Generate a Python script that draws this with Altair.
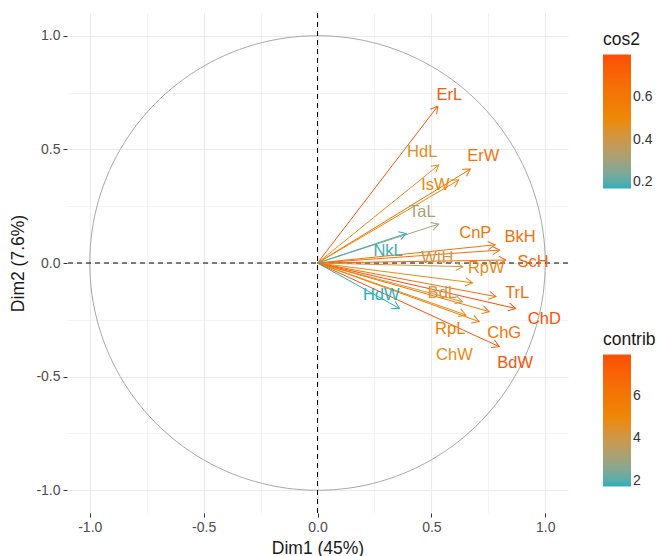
import altair as alt
import pandas as pd

names = ["ErL", "HdL", "ErW", "IsW", "TaL", "NkL", "CnP", "BkH", "ScH", "WtH",
         "RpW", "TrL", "ChD", "BdL", "RpL", "ChG", "ChW", "BdW", "HdW"]
dim1 = [0.528, 0.532, 0.671, 0.620, 0.532, 0.390, 0.780, 0.800, 0.827, 0.638,
        0.681, 0.784, 0.870, 0.636, 0.710, 0.754, 0.652, 0.798, 0.360]
dim2 = [0.690, 0.431, 0.413, 0.365, 0.171, 0.130, 0.080, 0.057, 0.013, -0.016,
        -0.087, -0.148, -0.200, -0.170, -0.258, -0.214, -0.229, -0.368, -0.200]
cos2 = [0.755, 0.469, 0.621, 0.517, 0.312, 0.180, 0.615, 0.643, 0.684, 0.407,
        0.472, 0.637, 0.797, 0.433, 0.571, 0.614, 0.477, 0.772, 0.172]
contrib = [7.55, 4.69, 6.21, 5.17, 3.12, 1.80, 6.15, 6.43, 6.84, 4.07,
           4.72, 6.37, 7.97, 4.33, 5.71, 6.14, 4.77, 7.72, 1.72]
lab_x = [0.579, 0.460, 0.728, 0.518, 0.460, 0.310, 0.693, 0.890, 0.947, 0.526,
         0.741, 0.877, 0.996, 0.548, 0.583, 0.820, 0.601, 0.868, 0.280]
lab_y = [0.738, 0.488, 0.470, 0.343, 0.224, 0.055, 0.132, 0.114, 0.004, 0.020,
         -0.022, -0.132, -0.246, -0.132, -0.290, -0.308, -0.404, -0.440, -0.141]

ticks = [-1.0, -0.75, -0.5, -0.25, 0.0, 0.25, 0.5, 0.75, 1.0]

df = pd.DataFrame({"name": names, "dim1": dim1, "dim2": dim2, "cos2": cos2,
                   "contrib": contrib, "lab_x": lab_x, "lab_y": lab_y})

FONT = "Liberation Sans"
grad = ["#2AAFBA", "#EC8A06", "#FC4E07"]
major = "abs(datum.value*2 - round(datum.value*2)) < 0.001"
lab_expr = major + " ? replace(format(datum.value, '.1f'), '\u2212', '-') : ''"

def make_axis(title, pad):
    return alt.Axis(
        values=ticks, labelExpr=lab_expr, title=title, domain=False,
        tickSize=4, tickWidth=1,
        tickColor={"condition": {"test": major, "value": "#333333"}, "value": "transparent"},
        gridColor="#EBEBEB",
        gridWidth={"condition": {"test": major, "value": 1.1}, "value": 0.6},
        labelFontSize=14, labelColor="#4D4D4D", labelFont=FONT, labelPadding=3,
        titleFontSize=17.5, titleFont=FONT, titleColor="#1A1A1A",
        titleFontWeight="normal", titlePadding=pad, labelFlush=False)

xs = alt.Scale(domain=[-1.1, 1.1], nice=False, zero=False)
ys = alt.Scale(domain=[-1.1, 1.1], nice=False, zero=False)

cos2_legend = alt.Legend(orient="none", legendX=536, legendY=18, title="cos2",
                         values=[0.2, 0.4, 0.6], gradientLength=134,
                         gradientThickness=28, direction="vertical")
contrib_legend = alt.Legend(orient="none", legendX=536, legendY=318, title="contrib",
                            values=[2, 4, 6], gradientLength=132,
                            gradientThickness=28, direction="vertical")

circle = alt.Chart(pd.DataFrame({"t": list(range(0, 362, 2))})).transform_calculate(
    cx="cos(datum.t*PI/180)", cy="sin(datum.t*PI/180)"
).mark_line(color="#A8A8A8", strokeWidth=1).encode(
    x=alt.X("cx:Q", scale=xs, axis=make_axis("Dim1 (45%)", 5)),
    y=alt.Y("cy:Q", scale=ys, axis=make_axis("Dim2 (7.6%)", 8)),
    order="t:Q")

zero_df = pd.DataFrame({"v": [0.0]})
vline = alt.Chart(zero_df).mark_rule(color="black", strokeDash=[5, 4], strokeWidth=1).encode(
    x=alt.X("v:Q", scale=xs))
hline = alt.Chart(zero_df).mark_rule(color="black", strokeDash=[5, 4], strokeWidth=1).encode(
    y=alt.Y("v:Q", scale=ys))

base = alt.Chart(df)
color_scale = alt.Scale(range=grad, interpolate="lab", zero=False)

arrows = base.transform_calculate(zero="0").mark_rule(strokeWidth=1).encode(
    x=alt.X("dim1:Q", scale=xs), y=alt.Y("dim2:Q", scale=ys),
    x2=alt.X2("zero:Q"), y2=alt.Y2("zero:Q"),
    color=alt.Color("cos2:Q", scale=color_scale, legend=cos2_legend))

heads = base.transform_calculate(
    ang="(360 - atan2(datum.dim2, datum.dim1)*180/PI) % 360"
).mark_point(shape="M-1,-0.577L0,0L-1,0.577", filled=False, size=200,
             strokeWidth=1, opacity=1).encode(
    x=alt.X("dim1:Q", scale=xs), y=alt.Y("dim2:Q", scale=ys),
    angle=alt.Angle("ang:Q", scale=None),
    color=alt.Color("cos2:Q", scale=color_scale, legend=None))

labels = base.mark_text(fontSize=16.5, font=FONT).encode(
    x=alt.X("lab_x:Q", scale=xs), y=alt.Y("lab_y:Q", scale=ys),
    text="name:N",
    color=alt.Color("contrib:Q", scale=color_scale, legend=contrib_legend))

chart = alt.layer(circle, vline, hline, arrows, heads, labels).resolve_scale(
    color="independent"
).properties(
    width=501, height=500,
    autosize=alt.AutoSizeParams(type="none"),
    padding={"left": 67, "top": 13, "right": 96, "bottom": 43},
    background="white"
).configure_view(stroke=None).configure_legend(
    titleFontSize=17.5, titleFont=FONT, titleFontWeight="normal", titleColor="#1A1A1A",
    labelFontSize=14, labelFont=FONT, labelColor="#333333", titlePadding=6,
    labelOffset=6)

chart.save("out.html", embed_options={"renderer": "svg", "actions": False})
